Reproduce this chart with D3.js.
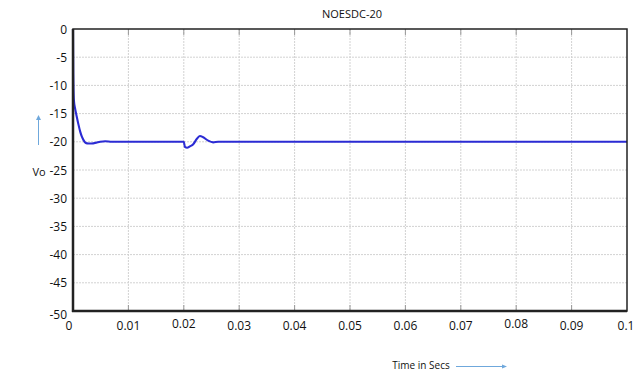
<!DOCTYPE html>
<html><head><meta charset="utf-8">
<script src="https://cdn.jsdelivr.net/npm/d3@7"></script>
<style>body{margin:0;background:#fff}svg{display:block}text{font-family:"Open Sans",sans-serif;fill:#111}</style>
</head><body><svg id="c" width="633" height="372"></svg>
<script>
const title = "NOESDC-20";
const xTicks = [0,0.01,0.02,0.03,0.04,0.05,0.06,0.07,0.08,0.09,0.1];
const xTickLabels = ["0","0.01","0.02","0.03","0.04","0.05","0.06","0.07","0.08","0.09","0.1"];
const yTicks = [0,-5,-10,-15,-20,-25,-30,-35,-40,-45,-50];
const time = [0,0.00005,0.00016,0.0004,0.00067,0.001,0.0013,0.0016,0.0019,0.0023,0.0028,0.0034,0.0042,0.0049,0.0058,0.007,0.0200,0.0202,0.0206,0.0211,0.0217,0.0223,0.0229,0.0235,0.0244,0.0253,0.0262,0.03,0.1];
const vo   = [0,-8,-12.6,-14.2,-15.5,-17,-18.2,-19.1,-19.7,-20.2,-20.3,-20.3,-20.15,-20.0,-19.9,-20.0,-20.0,-20.9,-21.05,-20.8,-20.45,-19.55,-18.97,-19.2,-19.8,-20.1,-20.0,-20.0,-20.0];

const svg = d3.select("#c");
const m = {l:73, r:627, t:29, b:311};
const x = d3.scaleLinear().domain([0,0.1]).range([m.l,m.r]);
const y = d3.scaleLinear().domain([-50,0]).range([m.b,m.t]);

const g = svg.append("g");
g.selectAll(".vx").data(xTicks.slice(1,-1)).enter().append("line")
 .attr("x1",d=>x(d)).attr("x2",d=>x(d)).attr("y1",m.t).attr("y2",m.b)
 .attr("stroke","#d2d2d2").attr("stroke-width",1).attr("stroke-dasharray","2,1");
g.selectAll(".hy").data(yTicks.slice(1,-1)).enter().append("line")
 .attr("y1",d=>y(d)).attr("y2",d=>y(d)).attr("x1",m.l).attr("x2",m.r)
 .attr("stroke","#d2d2d2").attr("stroke-width",1).attr("stroke-dasharray","2,1");
g.selectAll(".tb").data(xTicks.slice(1,-1)).enter().append("line")
 .attr("x1",d=>x(d)).attr("x2",d=>x(d)).attr("y1",m.b-6).attr("y2",m.b)
 .attr("stroke","#999");
g.selectAll(".tt").data(xTicks.slice(1,-1)).enter().append("line")
 .attr("x1",d=>x(d)).attr("x2",d=>x(d)).attr("y1",m.t).attr("y2",m.t+6)
 .attr("stroke","#999");

const line = d3.line().x((d,i)=>x(time[i])).y((d,i)=>y(vo[i])).curve(d3.curveMonotoneX);
svg.append("path").datum(vo).attr("d",line).attr("fill","none")
 .attr("stroke","#2b2bd4").attr("stroke-width",2.1).attr("stroke-linejoin","round");

svg.append("rect").attr("x",m.l).attr("y",m.t).attr("width",m.r-m.l).attr("height",m.b-m.t)
 .attr("fill","none").attr("stroke","#222").attr("stroke-width",1.5);
svg.append("line").attr("x1",m.l).attr("x2",m.l).attr("y1",m.t).attr("y2",m.b+1).attr("stroke","#222").attr("stroke-width",2.5);
svg.append("line").attr("x1",m.l-1).attr("x2",m.r).attr("y1",m.b).attr("y2",m.b).attr("stroke","#222").attr("stroke-width",2.5);

svg.selectAll(".yl").data(yTicks).enter().append("text")
 .attr("x",67).attr("y",d=>y(d)+4.5+(d===-50?3:0)).attr("text-anchor","end").attr("font-size",12).text(d=>d);
const xOff = [0,0,-2,0,0,0,0,0,-2,0,0];
svg.selectAll(".xl").data(xTicks).enter().append("text")
 .attr("x",(d,i)=>i===0?x(d)-4:(i===10?x(d)-1:x(d))).attr("y",(d,i)=>330+xOff[i]).attr("text-anchor","middle")
 .attr("font-size",12).text((d,i)=>xTickLabels[i]);

svg.append("text").attr("x",352).attr("y",18).attr("text-anchor","middle").attr("font-size",11).text(title);
svg.append("text").attr("x",39).attr("y",176).attr("text-anchor","middle").attr("font-size",11).text("Vo");
svg.append("line").attr("x1",38.5).attr("x2",38.5).attr("y1",145).attr("y2",119).attr("stroke","#6fa8dc").attr("stroke-width",1);
svg.append("path").attr("d","M36,120 L38.5,115 L41,120 Z").attr("fill","#6fa8dc");
svg.append("text").attr("x",421).attr("y",369).attr("text-anchor","middle").attr("font-size",10).text("Time in Secs");
svg.append("line").attr("x1",456).attr("x2",503).attr("y1",366.5).attr("y2",366.5).attr("stroke","#6fa8dc").attr("stroke-width",1);
svg.append("path").attr("d","M502,364.5 L507,366.5 L502,368.5 Z").attr("fill","#6fa8dc");
</script></body></html>
